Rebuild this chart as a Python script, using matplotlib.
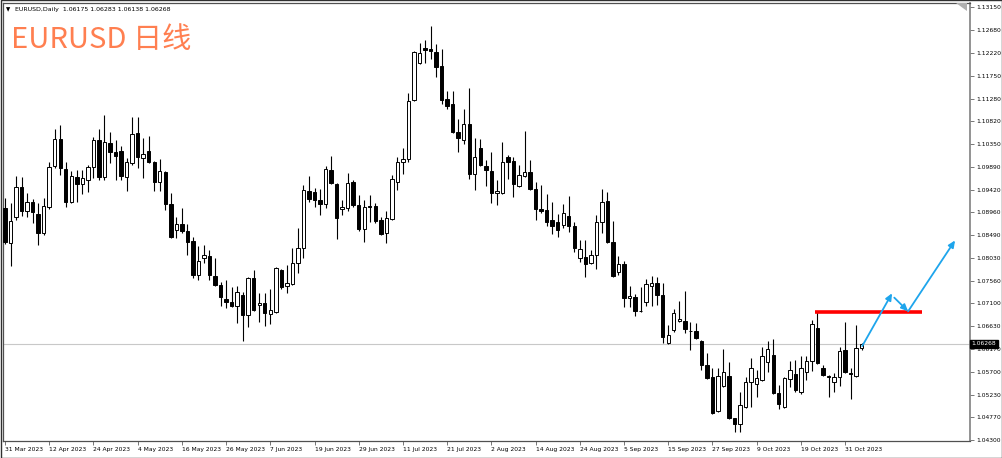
import matplotlib
matplotlib.use('Agg')
import matplotlib.pyplot as plt
import matplotlib.transforms as mtransforms
from matplotlib.patches import Rectangle, Polygon

plt.rcParams['font.family'] = ['DejaVu Sans']

# ---------------- data (EURUSD daily, 31 Mar 2023 .. 3 Nov 2023) ----------------
opens = [1.0904, 1.0832, 1.0886, 1.0947, 1.0898, 1.0916, 1.0892, 1.0853, 1.0906, 1.0990,
         1.1045, 1.0984, 1.0916, 1.0967, 1.0953, 1.0961, 1.0988, 1.1043, 1.0967, 1.1037,
         1.1018, 1.1020, 1.0967, 1.0996, 1.1057, 1.1006, 1.1020, 1.0998, 1.0957, 1.0977,
         1.0912, 1.0859, 1.0871, 1.0857, 1.0836, 1.0767, 1.0802, 1.0806, 1.0765, 1.0746,
         1.0718, 1.0712, 1.0704, 1.0726, 1.0685, 1.0761, 1.0706, 1.0710, 1.0687, 1.0691,
         1.0777, 1.0744, 1.0749, 1.0791, 1.0822, 1.0939, 1.0937, 1.0920, 1.0912, 1.0982,
         1.0953, 1.0902, 1.0904, 1.0957, 1.0910, 1.0861, 1.0908, 1.0908, 1.0879, 1.0853,
         1.0881, 1.0957, 1.0998, 1.1004, 1.1125, 1.1200, 1.1231, 1.1229, 1.1223, 1.1194,
         1.1127, 1.1116, 1.1059, 1.1043, 1.1075, 1.0973, 1.1027, 1.0990, 1.0980, 1.0935,
         1.0935, 1.1008, 1.1000, 1.0949, 1.0969, 1.0977, 1.0943, 1.0902, 1.0900, 1.0879,
         1.0875, 1.0869, 1.0888, 1.0867, 1.0802, 1.0804, 1.0791, 1.0808, 1.0875, 1.0918,
         1.0834, 1.0773, 1.0789, 1.0720, 1.0722, 1.0693, 1.0712, 1.0744, 1.0751, 1.0726,
         1.0628, 1.0654, 1.0673, 1.0673, 1.0652, 1.0652, 1.0633, 1.0583, 1.0558, 1.0489,
         1.0540, 1.0560, 1.0474, 1.0462, 1.0497, 1.0548, 1.0544, 1.0552, 1.0589, 1.0603,
         1.0526, 1.0497, 1.0554, 1.0565, 1.0528, 1.0569, 1.0591, 1.0659, 1.0577, 1.0561,
         1.0548, 1.0558, 1.0614, 1.0567, 1.0560, 1.06175]
highs = [1.0924, 1.0914, 1.0969, 1.0967, 1.0935, 1.0922, 1.0914, 1.0924, 1.0998, 1.1065,
         1.1073, 1.0998, 1.0979, 1.0982, 1.0982, 1.0992, 1.1049, 1.1065, 1.1094, 1.1059,
         1.1043, 1.1031, 1.1006, 1.1090, 1.1090, 1.1047, 1.1051, 1.1000, 1.1004, 1.0979,
         1.0935, 1.0886, 1.0904, 1.0871, 1.0845, 1.0826, 1.0828, 1.0818, 1.0802, 1.0753,
         1.0757, 1.0742, 1.0744, 1.0732, 1.0763, 1.0777, 1.0730, 1.0730, 1.0738, 1.0783,
         1.0779, 1.0787, 1.0822, 1.0863, 1.0951, 1.0969, 1.0945, 1.0943, 1.0990, 1.1010,
         1.0955, 1.0920, 1.0975, 1.0961, 1.0930, 1.0920, 1.0930, 1.0914, 1.0886, 1.0898,
         1.0971, 1.1008, 1.1026, 1.1139, 1.1225, 1.1241, 1.1247, 1.1276, 1.1239, 1.1229,
         1.1143, 1.1143, 1.1086, 1.1106, 1.1149, 1.1047, 1.1045, 1.1002, 1.1018, 1.0961,
         1.1039, 1.1012, 1.1008, 1.0992, 1.1061, 1.1002, 1.0957, 1.0951, 1.0932, 1.0916,
         1.0892, 1.0912, 1.0928, 1.0875, 1.0838, 1.0838, 1.0818, 1.0890, 1.0943, 1.0937,
         1.0877, 1.0806, 1.0796, 1.0744, 1.0728, 1.0742, 1.0759, 1.0765, 1.0763, 1.0751,
         1.0665, 1.0697, 1.0714, 1.0734, 1.0671, 1.0669, 1.0634, 1.0607, 1.0577, 1.0577,
         1.0616, 1.0589, 1.0475, 1.0528, 1.0558, 1.0597, 1.0573, 1.0620, 1.0632, 1.0636,
         1.0542, 1.0558, 1.0591, 1.0593, 1.0601, 1.0601, 1.0675, 1.0691, 1.0583, 1.0563,
         1.0567, 1.0620, 1.0671, 1.0577, 1.0665, 1.06283]
lows = [1.0830, 1.0786, 1.0879, 1.0888, 1.0886, 1.0873, 1.0828, 1.0849, 1.0902, 1.0986,
        1.0971, 1.0906, 1.0914, 1.0916, 1.0932, 1.0937, 1.0965, 1.0961, 1.0961, 1.0996,
        1.0961, 1.0961, 1.0939, 1.0992, 1.0986, 1.0965, 1.0996, 1.0939, 1.0939, 1.0900,
        1.0843, 1.0843, 1.0853, 1.0808, 1.0761, 1.0757, 1.0791, 1.0757, 1.0744, 1.0704,
        1.0699, 1.0702, 1.0669, 1.0632, 1.0661, 1.0693, 1.0671, 1.0663, 1.0667, 1.0689,
        1.0738, 1.0730, 1.0746, 1.0771, 1.0802, 1.0916, 1.0906, 1.0890, 1.0904, 1.0953,
        1.0840, 1.0890, 1.0898, 1.0906, 1.0857, 1.0834, 1.0875, 1.0873, 1.0849, 1.0832,
        1.0879, 1.0941, 1.0973, 1.0998, 1.1123, 1.1198, 1.1200, 1.1208, 1.1172, 1.1116,
        1.1106, 1.1057, 1.1018, 1.1035, 1.0963, 1.0941, 1.0990, 1.0949, 1.0914, 1.0910,
        1.0933, 1.0963, 1.0926, 1.0947, 1.0967, 1.0941, 1.0879, 1.0894, 1.0867, 1.0851,
        1.0845, 1.0863, 1.0855, 1.0814, 1.0793, 1.0763, 1.0789, 1.0779, 1.0853, 1.0832,
        1.0763, 1.0767, 1.0702, 1.0702, 1.0683, 1.0691, 1.0704, 1.0704, 1.0706, 1.0628,
        1.0626, 1.0650, 1.0671, 1.0648, 1.0614, 1.0636, 1.0573, 1.0554, 1.0483, 1.0487,
        1.0538, 1.0473, 1.0446, 1.0446, 1.0495, 1.0497, 1.0518, 1.0550, 1.0569, 1.0524,
        1.0493, 1.0495, 1.0538, 1.0528, 1.0524, 1.0552, 1.0571, 1.0585, 1.0561, 1.0518,
        1.0528, 1.0540, 1.0567, 1.0513, 1.0558, 1.06138]
closes = [1.0834, 1.0877, 1.0947, 1.0898, 1.0916, 1.0896, 1.0853, 1.0908, 1.0988, 1.1045,
          1.0986, 1.0916, 1.0969, 1.0953, 1.0965, 1.0988, 1.1043, 1.0967, 1.1039, 1.1018,
          1.1010, 1.0969, 1.0998, 1.1055, 1.1008, 1.1014, 1.0998, 1.0957, 1.0979, 1.0912,
          1.0845, 1.0871, 1.0857, 1.0834, 1.0767, 1.0796, 1.0808, 1.0767, 1.0746, 1.0722,
          1.0712, 1.0704, 1.0732, 1.0685, 1.0761, 1.0695, 1.0710, 1.0689, 1.0695, 1.0781,
          1.0742, 1.0751, 1.0791, 1.0822, 1.0941, 1.0922, 1.0920, 1.0912, 1.0984, 1.0955,
          1.0883, 1.0906, 1.0955, 1.0910, 1.0861, 1.0906, 1.0906, 1.0877, 1.0851, 1.0883,
          1.0963, 1.0998, 1.1004, 1.1123, 1.1223, 1.1221, 1.1227, 1.1225, 1.1192, 1.1125,
          1.1112, 1.1059, 1.1047, 1.1075, 1.0973, 1.1008, 1.0992, 1.0982, 1.0935, 1.0939,
          1.0998, 1.0998, 1.0953, 1.0971, 1.0977, 1.0943, 1.0902, 1.0898, 1.0875, 1.0867,
          1.0859, 1.0894, 1.0867, 1.0822, 1.0820, 1.0789, 1.0808, 1.0875, 1.0916, 1.0834,
          1.0765, 1.0789, 1.0720, 1.0724, 1.0693, 1.0694, 1.0749, 1.0751, 1.0726, 1.0640,
          1.0644, 1.0689, 1.0677, 1.0656, 1.0653, 1.0638, 1.0583, 1.0556, 1.0485, 1.0560,
          1.0569, 1.0475, 1.0462, 1.0501, 1.0548, 1.0577, 1.0556, 1.0601, 1.0616, 1.0526,
          1.0503, 1.0556, 1.0573, 1.0532, 1.0577, 1.0591, 1.0667, 1.0587, 1.0563, 1.0558,
          1.0558, 1.0612, 1.0569, 1.0565, 1.06175, 1.06268]

date_labels = ['31 Mar 2023', '12 Apr 2023', '24 Apr 2023', '4 May 2023', '16 May 2023',
               '26 May 2023', '7 Jun 2023', '19 Jun 2023', '29 Jun 2023', '11 Jul 2023',
               '21 Jul 2023', '2 Aug 2023', '14 Aug 2023', '24 Aug 2023', '5 Sep 2023',
               '15 Sep 2023', '27 Sep 2023', '9 Oct 2023', '19 Oct 2023', '31 Oct 2023']
date_label_bars = [0, 8, 16, 24, 32, 40, 48, 56, 64, 72, 80, 88, 96, 104, 112, 120, 128, 136, 144, 152]
price_ticks = [1.13150, 1.12680, 1.12220, 1.11750, 1.11280, 1.10820, 1.10350, 1.09890,
               1.09420, 1.08960, 1.08490, 1.08030, 1.07560, 1.07100, 1.06630, 1.06170,
               1.05700, 1.05230, 1.04770, 1.04300]

last_price = 1.06268
resistance_level = 1.0691
resistance_span = [146.6, 166.0]
# forecast arrows drawn on chart: (start bar, start price) -> (end bar, end price)
arrow_paths = [((155.1, 1.0622), (160.5, 1.0730)),
               ((160.9, 1.0721), (163.4, 1.0693)),
               ((163.4, 1.0693), (171.9, 1.0838))]

# ---------------- figure ----------------
W, H = 1003, 458
fig = plt.figure(figsize=(W / 100, H / 100), dpi=100)
fig.patch.set_facecolor('white')
ax = fig.add_axes([3 / W, (H - 441) / H, 967 / W, 438 / H])
ax.set_facecolor('white')

n = len(opens)
xs = list(range(n))
ax.set_xlim(-0.36, 174.6)
ax.set_ylim(1.0428, 1.13232)

# wicks
ax.vlines(xs, lows, highs, color='black', lw=0.8, zorder=2)
# bodies
bw = 0.62
for i in range(n):
    o, c = opens[i], closes[i]
    bottom = min(o, c)
    h = abs(c - o)
    if h < 0.00004:
        h = 0.00004
    fc = 'white' if c >= o else 'black'
    ax.bar(i, h, bottom=bottom, width=bw, facecolor=fc, edgecolor='black',
           linewidth=0.7, zorder=3)

# last price line
ax.axhline(last_price, color='#c8c8c8', lw=0.8, zorder=1)

# resistance line
ax.hlines(resistance_level, resistance_span[0], resistance_span[1], color='#ff0000', lw=2.6, zorder=4)

# arrows
blue = '#1ea5ec'
for (x0, y0), (x1, y1) in arrow_paths:
    ax.annotate('', xy=(x1, y1), xytext=(x0, y0),
                arrowprops=dict(arrowstyle='-|>,head_length=0.4,head_width=0.18',
                                color=blue, lw=1.3, shrinkA=0, shrinkB=0), zorder=5)

# axes styling
for side in ['left', 'top', 'bottom']:
    ax.spines[side].set_color('#505050')
    ax.spines[side].set_linewidth(0.9)
ax.spines['right'].set_color('#808080')
ax.spines['right'].set_linewidth(1.2)

ax.yaxis.tick_right()
ax.set_yticks(price_ticks)
ax.set_yticklabels(['%.5f' % v for v in price_ticks])
ax.tick_params(axis='y', direction='out', length=3, width=0.6, color='#606060',
               labelsize=4.3, pad=1.5)
ax.set_xticks(date_label_bars)
ax.set_xticklabels(date_labels)
for lbl in ax.get_xticklabels():
    lbl.set_horizontalalignment('left')
ax.tick_params(axis='x', direction='out', length=3, width=0.6, color='#606060',
               labelsize=4.3, pad=1.5)

# current price box
trans = mtransforms.blended_transform_factory(ax.transAxes, ax.transData)
ax.text(1.0015, last_price, '%.5f' % last_price, transform=trans, ha='left', va='center',
        fontsize=4.3, color='white', zorder=10, clip_on=False,
        bbox=dict(boxstyle='square,pad=0.25', facecolor='black', edgecolor='black'))

# header
fig.text(6 / W, 1 - 10 / H, '▼', fontsize=4, color='black', va='center', ha='left')
fig.text(15 / W, 1 - 10 / H, 'EURUSD,Daily  1.06175 1.06283 1.06138 1.06268',
         fontsize=4.5, color='black', va='center', ha='left')
fig.text(11 / W, 1 - 40 / H, 'EURUSD 日线', fontsize=21, color='#ff7f50',
         va='center', ha='left', family=['Noto Sans CJK SC', 'DejaVu Sans'])

# chart shift marker
fig.patches.append(Polygon([[956 / W, 1 - 3 / H], [967 / W, 1 - 3 / H], [967 / W, 1 - 11 / H]],
                           closed=True, transform=fig.transFigure, facecolor='#b0b0b0',
                           edgecolor='none'))
# outer frame
fig.patches.append(Rectangle((0.0005, 0.001), 0.999, 0.998, transform=fig.transFigure,
                             fill=False, edgecolor='#303030', lw=1.0))

fig.savefig('out.png', dpi=100)
